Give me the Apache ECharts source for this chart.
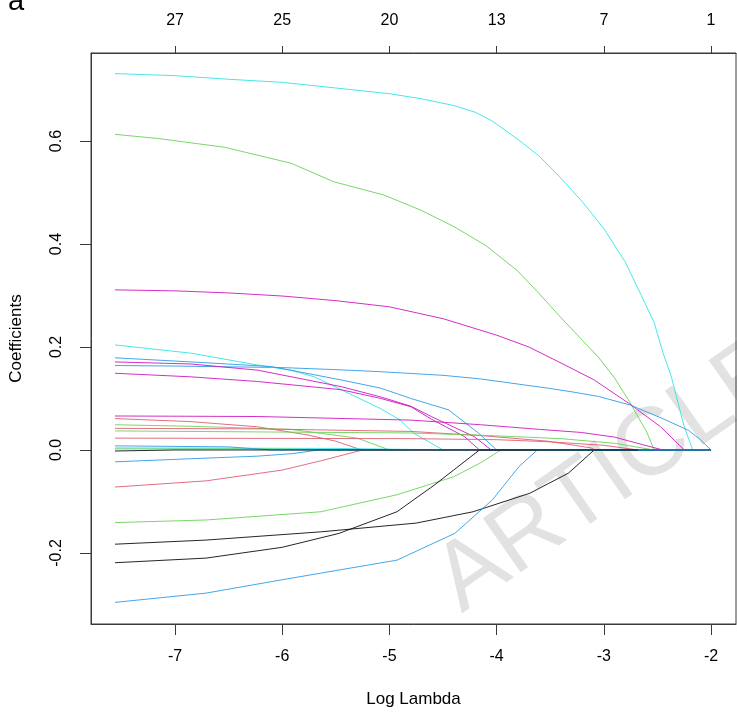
<!DOCTYPE html>
<html>
<head>
<meta charset="utf-8">
<script src="https://cdn.jsdelivr.net/npm/echarts@6/dist/echarts.min.js"></script>
<style>
html,body{margin:0;padding:0;background:#fff;}
#chart{width:737px;height:716px;}
</style>
</head>
<body>
<div id="chart"></div>
<script>
// ---- axis data ----
const logLambdaTicks = [-7, -6, -5, -4, -3, -2];
const dfTopLabels = ['27', '25', '20', '13', '7', '1'];
const coefTicks = [-0.2, 0, 0.2, 0.4, 0.6];
const xRange = [-7.784, -1.767];
const yRange = [-0.338, 0.771];

// ---- coefficient paths: [logLambda, coefficient] ----
const cyanTop = [[-7.56,0.731],[-7.0,0.727],[-6.5,0.72],[-6.0,0.714],[-5.5,0.703],[-5.0,0.692],[-4.7,0.682],[-4.4,0.669],[-4.2,0.656],[-4.05,0.64],[-3.9,0.618],[-3.75,0.595],[-3.6,0.57],[-3.4,0.528],[-3.2,0.482],[-3.0,0.43],[-2.8,0.365],[-2.65,0.3],[-2.53,0.247],[-2.45,0.19],[-2.37,0.142],[-2.25,0.045],[-2.17,0],[-2.0,0]];
const greenTop = [[-7.56,0.613],[-7.16,0.605],[-6.54,0.588],[-5.92,0.557],[-5.52,0.521],[-5.05,0.495],[-4.71,0.466],[-4.4,0.434],[-4.1,0.397],[-3.8,0.347],[-3.6,0.303],[-3.4,0.257],[-3.2,0.213],[-3.05,0.18],[-2.9,0.14],[-2.77,0.097],[-2.6,0.035],[-2.53,0],[-2.0,0]];
const magentaTop = [[-7.56,0.311],[-7.0,0.309],[-6.5,0.305],[-6.0,0.299],[-5.5,0.29],[-5.0,0.278],[-4.5,0.255],[-4.0,0.223],[-3.7,0.2],[-3.4,0.169],[-3.09,0.136],[-2.77,0.091],[-2.47,0.045],[-2.25,0],[-2.0,0]];
const blueLong = [[-7.56,0.164],[-7.0,0.163],[-6.0,0.16],[-5.5,0.156],[-5.08,0.152],[-4.5,0.145],[-4.15,0.138],[-3.8,0.128],[-3.52,0.12],[-3.3,0.113],[-3.05,0.104],[-2.75,0.087],[-2.44,0.06],[-2.21,0.038],[-2.1,0.02],[-2.0,0]];
const cyanMid = [[-7.56,0.204],[-6.85,0.188],[-6.23,0.165],[-5.92,0.155],[-5.7,0.142],[-5.45,0.117],[-5.2,0.092],[-5.08,0.08],[-4.9,0.058],[-4.77,0.032],[-4.5,0],[-2.0,0]];
const blueUpper = [[-7.56,0.179],[-6.85,0.171],[-6.1,0.162],[-5.45,0.136],[-5.08,0.12],[-4.8,0.1],[-4.45,0.078],[-4.17,0.033],[-4.0,0],[-2.0,0]];
const magentaMid = [[-7.56,0.171],[-6.85,0.167],[-6.23,0.155],[-5.45,0.123],[-5.08,0.103],[-4.8,0.085],[-4.61,0.065],[-4.21,0.026],[-4.05,0],[-2.0,0]];
const magentaLow = [[-7.56,0.149],[-6.85,0.142],[-6.23,0.133],[-5.45,0.117],[-5.08,0.1],[-4.8,0.084],[-4.61,0.06],[-4.3,0.026],[-4.16,0],[-2.0,0]];
const magentaSmall = [[-7.56,0.066],[-6.23,0.065],[-4.8,0.058],[-4.15,0.049],[-3.6,0.04],[-3.21,0.034],[-2.9,0.025],[-2.65,0.011],[-2.45,0],[-2.0,0]];
const redA = [[-7.56,0.061],[-6.85,0.055],[-6.23,0.045],[-5.76,0.029],[-5.5,0.017],[-5.26,0],[-2.0,0]];
const greenA = [[-7.56,0.049],[-6.85,0.046],[-5.92,0.04],[-5.3,0.023],[-5.0,0],[-2.0,0]];
const redB = [[-7.56,0.042],[-6.23,0.041],[-4.8,0.036],[-4.15,0.028],[-3.52,0.017],[-3.12,0.004],[-3.08,0],[-2.0,0]];
const greenB = [[-7.56,0.037],[-4.8,0.033],[-4.2,0.029],[-3.84,0.026],[-3.4,0.022],[-2.9,0.013],[-2.53,0],[-2.0,0]];
const redC = [[-7.56,0.023],[-4.8,0.022],[-4.0,0.02],[-3.52,0.016],[-3.0,0.009],[-2.68,0],[-2.0,0]];
const cyanTiny = [[-7.56,0.004],[-5.5,0.003],[-4.4,0],[-2.0,0]];
const greenTiny = [[-7.56,0.002],[-6.2,0.002],[-5.3,0],[-2.0,0]];
const blueNegSmall = [[-7.56,-0.023],[-6.85,-0.017],[-6.23,-0.012],[-5.9,-0.007],[-5.66,0],[-2.0,0]];
const redNeg = [[-7.56,-0.072],[-6.71,-0.06],[-6.0,-0.039],[-5.64,-0.021],[-5.25,0],[-2.0,0]];
const greenNeg = [[-7.56,-0.141],[-6.71,-0.136],[-5.64,-0.12],[-4.93,-0.087],[-4.4,-0.052],[-4.15,-0.025],[-3.96,0],[-2.0,0]];
const blackA = [[-7.56,-0.183],[-6.71,-0.175],[-5.64,-0.159],[-4.75,-0.142],[-4.22,-0.12],[-3.69,-0.084],[-3.33,-0.045],[-3.09,0],[-2.0,0]];
const blackB = [[-7.56,-0.219],[-6.71,-0.21],[-6.0,-0.189],[-5.47,-0.162],[-4.93,-0.12],[-4.58,-0.068],[-4.16,0],[-2.0,0]];
const blueNeg = [[-7.56,-0.296],[-6.71,-0.278],[-6.0,-0.252],[-4.93,-0.214],[-4.39,-0.162],[-4.04,-0.097],[-3.79,-0.032],[-3.62,0],[-2.0,0]];
const blueTiny = [[-7.56,0.008],[-6.5,0.006],[-6.1,0],[-2.0,0]];
const blackTiny = [[-7.56,-0.002],[-7.0,0],[-2.68,0]];

const BLACK = '#000000', RED = '#DF536B', GREEN = '#61D04F', BLUE = '#2297E6', CYAN = '#28E2E5', MAGENTA = '#CD0BBC';

const paths = [
  [cyanTop, CYAN], [greenTop, GREEN], [magentaTop, MAGENTA], [blueLong, BLUE],
  [cyanMid, CYAN], [blueUpper, BLUE], [magentaMid, MAGENTA], [magentaLow, MAGENTA],
  [magentaSmall, MAGENTA], [redA, RED], [greenA, GREEN], [redB, RED], [greenB, GREEN],
  [redC, RED], [cyanTiny, CYAN], [greenTiny, GREEN], [blueNegSmall, BLUE], [redNeg, RED],
  [greenNeg, GREEN], [blackA, BLACK], [blackB, BLACK], [blueNeg, BLUE],
  [blueTiny, BLUE], [blackTiny, BLACK]
];

const FONT = 'Liberation Sans, Arial, Helvetica, sans-serif';
const AXIS_COLOR = '#3a3a3a';

const chart = echarts.init(document.getElementById('chart'), null, {renderer: 'canvas'});
chart.setOption({
  animation: false,
  backgroundColor: '#ffffff',
  grid: {left: 90, right: 1, top: 53, bottom: 92, show: true, borderColor: AXIS_COLOR, borderWidth: 1, backgroundColor: 'transparent'},
  xAxis: [{
    type: 'value', position: 'bottom', min: xRange[0], max: xRange[1],
    axisLine: {show: true, onZero: false, lineStyle: {color: AXIS_COLOR, width: 1}},
    axisTick: {show: true, customValues: logLambdaTicks, length: 11, lineStyle: {color: AXIS_COLOR}},
    axisLabel: {customValues: logLambdaTicks, margin: 25, fontSize: 16, fontFamily: FONT, color: '#000',
      formatter: v => String(Math.round(v))},
    splitLine: {show: false},
    name: 'Log Lambda', nameLocation: 'middle', nameGap: 67,
    nameTextStyle: {fontSize: 17, fontFamily: FONT, color: '#000'}
  }, {
    type: 'value', position: 'top', min: xRange[0], max: xRange[1],
    axisLine: {show: true, onZero: false, lineStyle: {color: AXIS_COLOR, width: 1}},
    axisTick: {show: true, customValues: logLambdaTicks, length: 7, lineStyle: {color: AXIS_COLOR}},
    axisLabel: {customValues: logLambdaTicks, margin: 24, fontSize: 16, fontFamily: FONT, color: '#000',
      formatter: v => dfTopLabels[logLambdaTicks.indexOf(Math.round(v))]},
    splitLine: {show: false}
  }],
  yAxis: [{
    type: 'value', min: yRange[0], max: yRange[1],
    axisLine: {show: true, onZero: false, lineStyle: {color: AXIS_COLOR, width: 1}},
    axisTick: {show: true, customValues: coefTicks, length: 11, lineStyle: {color: AXIS_COLOR}},
    axisLabel: {customValues: coefTicks, rotate: 90, margin: 26, fontSize: 16, fontFamily: FONT, color: '#000',
      formatter: v => v.toFixed(1)},
    splitLine: {show: false},
    name: 'Coefficients', nameLocation: 'middle', nameGap: 66,
    nameTextStyle: {fontSize: 17, fontFamily: FONT, color: '#000'}
  }],
  graphic: [{
    type: 'text', z: -1, x: 612, y: 476, rotation: 35 * Math.PI / 180,
    style: {text: 'ARTICLE', fontSize: 96, fontFamily: FONT, fill: 'rgba(175,175,175,0.36)', align: 'center', verticalAlign: 'middle'}
  }, {
    type: 'text', x: 8, y: 16,
    style: {text: 'a', fontSize: 29, fontFamily: FONT, fill: '#000', align: 'left', verticalAlign: 'bottom'}
  }],
  series: paths.map(([data, color], i) => ({
    type: 'line', name: 'v' + (i + 1), data: data, symbol: 'none', showSymbol: false,
    lineStyle: {color: color, width: 1, opacity: 0.85}, clip: true, silent: true
  }))
});
</script>
</body>
</html>
